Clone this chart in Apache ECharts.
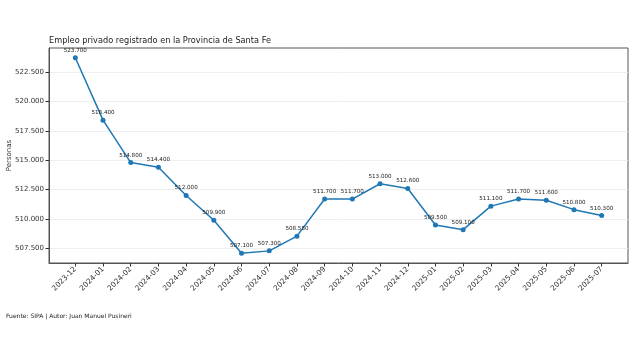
<!DOCTYPE html>
<html><head><meta charset="utf-8">
<script src="https://cdn.jsdelivr.net/npm/echarts@6/dist/echarts.min.js"></script>
<style>html,body{margin:0;padding:0;background:#fff}#c{width:642px;height:361px}</style>
</head><body><div id="c"></div>
<script>
const categories = ['2023-12','2024-01','2024-02','2024-03','2024-04','2024-05','2024-06','2024-07','2024-08','2024-09','2024-10','2024-11','2024-12','2025-01','2025-02','2025-03','2025-04','2025-05','2025-06','2025-07'];
const values = [523700,518400,514800,514400,512000,509900,507100,507300,508550,511700,511700,513000,512600,509500,509100,511100,511700,511600,510800,510300];
const yTicks = [507500,510000,512500,515000,517500,520000,522500];

const fmt = v => Math.round(v).toString().replace(/\B(?=(\d{3})+(?!\d))/g, '.');
const lo = Math.min(...values), hi = Math.max(...values), pad = (hi - lo) * 0.05;
const n = categories.length;
const FONT = 'DejaVu Sans';

const chart = echarts.init(document.getElementById('c'), null, {renderer: 'canvas'});
chart.setOption({
  animation: false,
  backgroundColor: '#fff',
  title: {
    text: 'Empleo privado registrado en la Provincia de Santa Fe',
    left: 49, top: 37, padding: 0,
    textStyle: {fontFamily: FONT, fontSize: 8.2, fontWeight: 'normal', color: '#222'}
  },
  graphic: [{
    type: 'text', left: 6, top: 313,
    style: {text: 'Fuente: SIPA | Autor: Juan Manuel Pusineri', font: '6px "DejaVu Sans"', fill: '#222'}
  }],
  grid: {left: 49, right: 14, top: 48, bottom: 98, containLabel: false, outerBoundsMode: 'none',
    show: true, borderColor: '#555', borderWidth: 1, backgroundColor: 'transparent'},
  xAxis: {
    type: 'value', min: -0.95, max: n - 1 + 0.95,
    axisLine: {show: true, onZero: false, lineStyle: {color: '#555', width: 1}},
    axisTick: {show: true, length: 3.5, lineStyle: {color: '#333', width: 1}, customValues: categories.map((c, i) => i)},
    axisLabel: {customValues: categories.map((c, i) => i), rotate: 45, margin: 5,
      fontFamily: FONT, fontSize: 7.4, color: '#333', formatter: v => categories[Math.round(v)] || ''},
    splitLine: {show: false}
  },
  yAxis: {
    type: 'value', min: lo - pad, max: hi + pad,
    name: 'Personas', nameLocation: 'middle', nameGap: 36, nameRotate: 90, nameMoveOverlap: false,
    nameTextStyle: {fontFamily: FONT, fontSize: 7, color: '#333'},
    axisLine: {show: true, onZero: false, lineStyle: {color: '#555', width: 1}},
    axisTick: {show: true, length: 3.5, lineStyle: {color: '#333', width: 1}, customValues: yTicks},
    axisLabel: {customValues: yTicks, fontFamily: FONT, fontSize: 7, color: '#333', margin: 5, formatter: v => fmt(v)},
    splitLine: {show: true, lineStyle: {color: '#eeeeee', width: 1}}
  },
  series: [{
    type: 'line',
    data: values.map((v, i) => [i, v]),
    symbol: 'circle', symbolSize: 5,
    lineStyle: {color: '#1f77b4', width: 1.5},
    itemStyle: {color: '#1f77b4'},
    label: {show: true, position: 'top', distance: 2, fontFamily: FONT, fontSize: 5.6, color: '#222',
      formatter: p => fmt(p.value[1])}
  }]
});
</script></body></html>
